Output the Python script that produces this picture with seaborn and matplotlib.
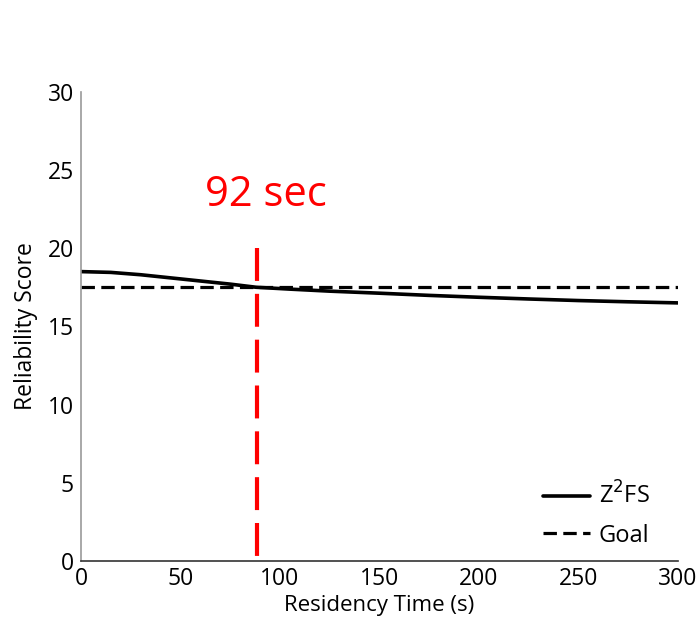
import matplotlib
matplotlib.use("Agg")
import matplotlib.pyplot as plt
import seaborn as sns
import pandas as pd

# Data
time_s = [0, 15, 30, 45, 60, 75, 88, 105, 125, 150, 175, 200, 225, 250, 275, 300]
z2fs_score = [18.5, 18.45, 18.3, 18.1, 17.9, 17.7, 17.5, 17.38, 17.25, 17.12, 16.98, 16.86, 16.75, 16.65, 16.57, 16.5]
goal_score = [17.5] * len(time_s)
marker_time = 88.5
marker_top = 20
marker_label = "92 sec"
xticks = [0, 50, 100, 150, 200, 250, 300]
yticks = [0, 5, 10, 15, 20, 25, 30]

sns.set_style("white")
plt.rcParams['font.family'] = ['Open Sans', 'DejaVu Sans']
plt.rcParams['text.color'] = 'black'
plt.rcParams['axes.labelcolor'] = 'black'
plt.rcParams['xtick.color'] = 'black'
plt.rcParams['ytick.color'] = 'black'

df = pd.DataFrame({"time": time_s, "Z2FS": z2fs_score, "Goal": goal_score})

fig = plt.figure(figsize=(6.98, 6.24), dpi=100)
ax = fig.add_axes([0.116, 0.101, 0.855, 0.752])

sns.lineplot(data=df, x="time", y="Z2FS", ax=ax, color="black", lw=2.6, label=r"Z$^2$FS")
sns.lineplot(data=df, x="time", y="Goal", ax=ax, color="black", lw=2.3, ls=(0, (4.2, 2.0)), label="Goal")
ax.plot([marker_time, marker_time], [marker_top, 0], color="red", lw=3, ls=(0, (7.9, 3.1)))
ax.text(marker_time - 26, 23.4, marker_label, color="red", fontsize=30, ha="left", va="center")

ax.set_xlim(0, 300)
ax.set_ylim(0, 30)
ax.set_xticks(xticks)
ax.set_yticks(yticks)
ax.tick_params(direction="in", length=5, width=1, labelsize=16.5, pad=5)
ax.tick_params(axis="x", pad=4)
ax.tick_params(axis="y", color="#999999")
ax.tick_params(axis="x", color="#666666")
for s in ["top", "right"]:
    ax.spines[s].set_visible(False)
ax.spines["left"].set_color("#999999")
ax.spines["bottom"].set_color("#333333")
for s in ["left", "bottom"]:
    ax.spines[s].set_linewidth(1.2)
ax.set_xlabel("Residency Time (s)", fontsize=16, labelpad=3)
ax.set_ylabel("Reliability Score", fontsize=16.5, labelpad=7)

leg = ax.legend(loc="lower right", bbox_to_anchor=(0.975, 0.0), frameon=False, fontsize=17,
                handlelength=2.0, handletextpad=0.35, labelspacing=0.58, borderaxespad=0.16)

fig.savefig("out.png", dpi=100)
